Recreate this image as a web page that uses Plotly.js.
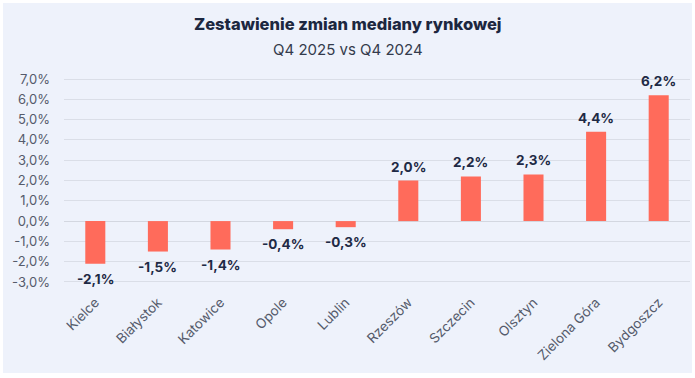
<!DOCTYPE html>
<html>
<head>
<meta charset="utf-8">
<script src="https://cdn.plot.ly/plotly-3.0.1.min.js"></script>
<style>
  html, body { margin: 0; padding: 0; background: #ffffff; width: 695px; height: 378px; overflow: hidden; }
  #chart { position: absolute; left: 3px; top: 3px; width: 689px; height: 370px; }
</style>
</head>
<body>
<div id="chart"></div>
<script>
const cities = ["Kielce", "Białystok", "Katowice", "Opole", "Lublin", "Rzeszów", "Szczecin", "Olsztyn", "Zielona Góra", "Bydgoszcz"];
const changes = [-2.1, -1.5, -1.4, -0.4, -0.3, 2.0, 2.2, 2.3, 4.4, 6.2];
const yTicks = [-3, -2, -1, 0, 1, 2, 3, 4, 5, 6, 7];
const titleText = "Zestawienie zmian mediany rynkowej";
const subtitleText = "Q4 2025 vs Q4 2024";

const FONT = "Inter, 'Open Sans', sans-serif";
const fmt = v => v.toFixed(1).replace(".", ",") + "%";

const trace = {
  type: "bar",
  x: cities,
  y: changes,
  marker: { color: "#ff6b5b" },
  hoverinfo: "none"
};

const valueLabels = cities.map((c, i) => ({
  x: c,
  y: changes[i],
  xref: "x", yref: "y",
  text: fmt(changes[i]),
  showarrow: false,
  xanchor: "center",
  yanchor: changes[i] >= 0 ? "bottom" : "top",
  yshift: changes[i] >= 0 ? 4 : -5,
  font: { family: FONT, size: 13.5, color: "#1e2a45", weight: 700 }
}));

const layout = {
  width: 689,
  height: 370,
  margin: { l: 61, r: 2, t: 75, b: 90 },
  paper_bgcolor: "#eef2fb",
  plot_bgcolor: "#eef2fb",
  bargap: 0.68,
  showlegend: false,
  font: { family: FONT, color: "#555b6b" },
  xaxis: {
    type: "category",
    tickangle: -45,
    tickfont: { family: FONT, size: 13.5, color: "#555b6b" },
    showgrid: false,
    showline: false,
    zeroline: false,
    ticks: "",
    ticklabelstandoff: 8
  },
  yaxis: {
    range: [-3.05, 7.05],
    tickmode: "array",
    tickvals: yTicks,
    ticktext: yTicks.map(fmt),
    tickfont: { family: FONT, size: 13, color: "#555b6b" },
    showgrid: true,
    gridcolor: "#dadee7",
    gridwidth: 1,
    zeroline: true,
    zerolinecolor: "#d3d7e0",
    zerolinewidth: 1,
    showline: false,
    ticks: "",
    ticklabelstandoff: 13
  },
  annotations: [
    {
      text: titleText,
      xref: "paper", yref: "paper",
      x: 0.4537, y: 1.263,
      xanchor: "center", yanchor: "middle",
      showarrow: false,
      font: { family: FONT, size: 16.5, color: "#1c2740", weight: 800 }
    },
    {
      text: subtitleText,
      xref: "paper", yref: "paper",
      x: 0.4537, y: 1.137,
      xanchor: "center", yanchor: "middle",
      showarrow: false,
      font: { family: FONT, size: 15, color: "#343b4c" }
    }
  ].concat(valueLabels)
};

Plotly.newPlot("chart", [trace], layout, { staticPlot: true, displayModeBar: false });
</script>
</body>
</html>
